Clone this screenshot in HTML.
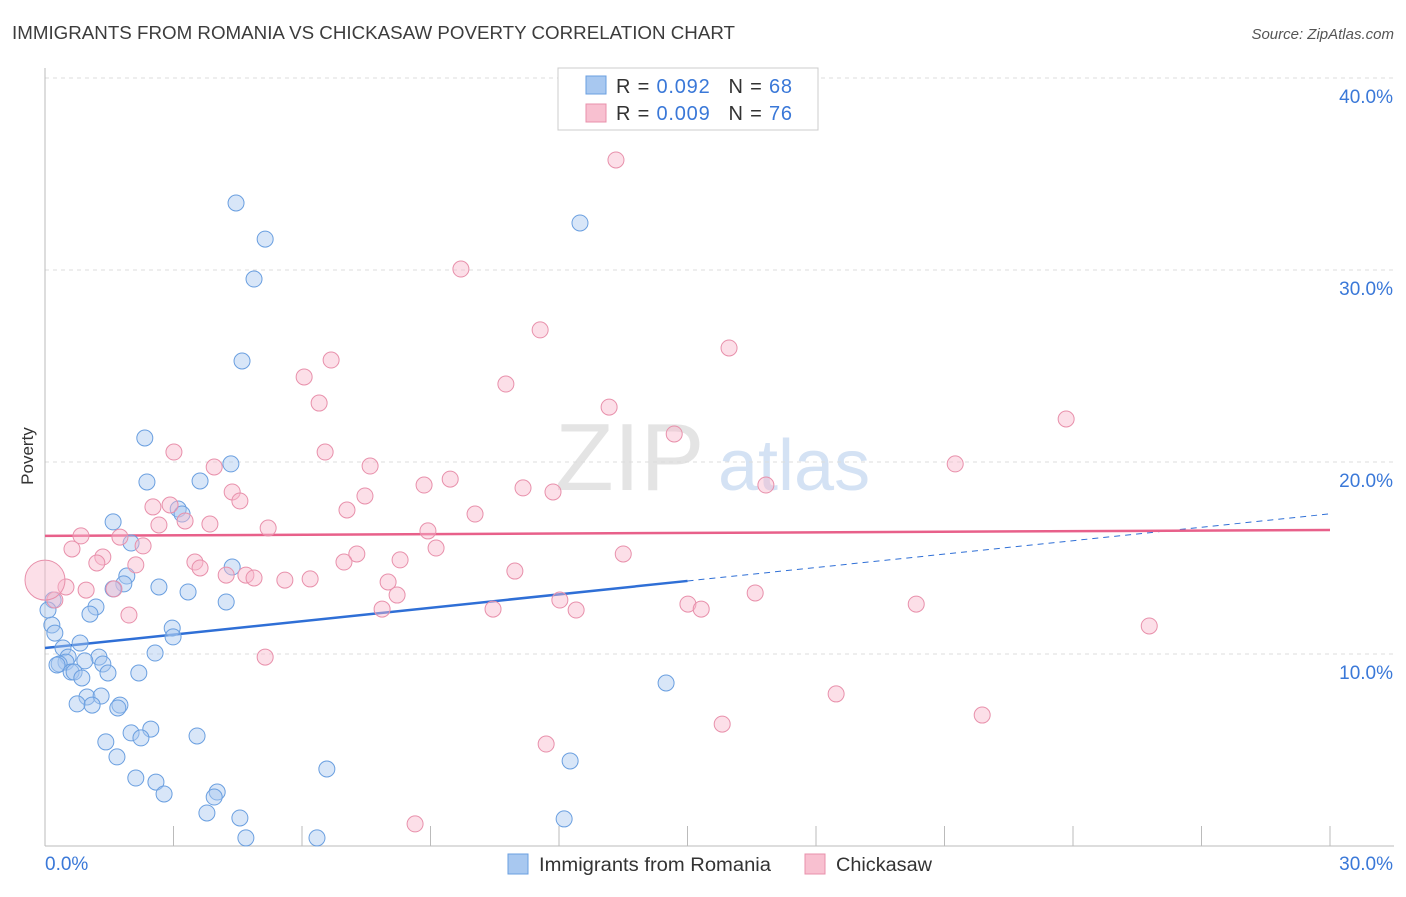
<!DOCTYPE html>
<html><head><meta charset="utf-8"><style>
body{margin:0;background:#fff;font-family:"Liberation Sans",sans-serif}
svg text{font-family:"Liberation Sans",sans-serif}
</style></head><body>
<svg id="chart" width="1406" height="892" xmlns="http://www.w3.org/2000/svg">
<text x="12" y="39" font-size="18" fill="#3c3c3c" textLength="723" lengthAdjust="spacingAndGlyphs">IMMIGRANTS FROM ROMANIA VS CHICKASAW POVERTY CORRELATION CHART</text>
<text x="1394" y="39" font-size="15" fill="#555" text-anchor="end" font-style="italic">Source: ZipAtlas.com</text>
<text x="555" y="490" font-size="96" fill="#e4e4e4" font-family="Liberation Serif">ZIP</text>
<text x="718" y="490" font-size="72" fill="#d4e2f4">atlas</text>
<text x="33" y="456" font-size="17" fill="#333" text-anchor="middle" transform="rotate(-90 33 456)">Poverty</text>
<g id="grid"></g><g id="axes"></g><g id="trend"></g><g id="pts"></g>
<g>
<rect x="558" y="68" width="260" height="62" fill="#fff" stroke="#ccc"/>
<rect x="586" y="76" width="20" height="18" fill="#a8c8f0" stroke="#6a9fe0"/>
<rect x="586" y="104" width="20" height="18" fill="#f8c0d0" stroke="#e890ab"/>
<text x="616" y="93" font-size="20" fill="#333" textLength="176" lengthAdjust="spacing">R = <tspan fill="#3a78d8">0.092</tspan><tspan dx="18">N = </tspan><tspan fill="#3a78d8">68</tspan></text>
<text x="616" y="120" font-size="20" fill="#333" textLength="176" lengthAdjust="spacing">R = <tspan fill="#3a78d8">0.009</tspan><tspan dx="18">N = </tspan><tspan fill="#3a78d8">76</tspan></text>
</g>
<g>
<rect x="508" y="854" width="20" height="20" fill="#a8c8f0" stroke="#6a9fe0"/>
<text x="539" y="871" font-size="19" fill="#333" textLength="232" lengthAdjust="spacingAndGlyphs">Immigrants from Romania</text>
<rect x="805" y="854" width="20" height="20" fill="#f8c0d0" stroke="#e890ab"/>
<text x="836" y="871" font-size="19" fill="#333" textLength="96" lengthAdjust="spacingAndGlyphs">Chickasaw</text>
</g>
</svg>
<script>
const blueX=[4.46,5.14,4.88,12.49,4.60,2.33,4.34,2.38,3.62,3.11,3.20,1.59,2.01,4.37,1.91,1.84,1.59,2.66,3.34,4.23,1.19,1.05,0.19,0.16,0.23,0.82,2.97,2.99,2.57,0.42,0.54,0.49,0.33,1.26,0.93,1.35,0.28,0.61,0.68,0.86,1.47,2.19,0.98,1.31,0.75,1.10,1.75,1.70,2.47,3.55,2.01,2.24,1.42,1.68,6.58,12.26,14.50,2.12,2.59,2.78,4.02,3.95,3.78,4.55,12.12,4.69,6.35,0.07];
const blueY=[33.49,31.61,29.53,32.45,25.26,21.25,19.90,18.96,19.01,17.55,17.29,16.88,15.78,14.53,14.06,13.65,13.39,13.49,13.23,12.71,12.45,12.08,12.81,11.51,11.09,10.57,11.35,10.89,10.05,10.31,9.84,9.58,9.48,9.84,9.64,9.48,9.43,9.06,9.06,8.75,9.01,9.01,7.76,7.81,7.40,7.34,7.34,7.19,6.09,5.73,5.89,5.63,5.42,4.64,4.01,4.43,8.49,3.54,3.33,2.71,2.81,2.55,1.72,1.46,1.41,0.42,0.42,12.29];
const pinkX=[13.33,9.71,11.56,6.68,15.97,6.05,10.76,6.40,13.17,23.84,14.69,3.01,6.54,3.95,7.59,21.25,9.46,8.85,11.16,11.86,16.83,4.37,4.55,7.47,2.92,2.52,10.04,7.05,3.27,3.85,2.66,5.21,8.94,0.84,1.75,2.29,0.63,9.13,7.28,13.50,1.35,1.21,2.12,3.50,6.98,8.29,3.62,10.97,4.23,4.69,4.88,5.60,6.19,8.01,0.49,0.96,1.61,8.22,16.58,7.87,10.46,12.02,12.40,15.01,15.32,20.34,25.78,0.23,1.96,5.14,18.47,15.81,21.88,11.70,8.64,0];
const pinkY=[35.73,30.05,26.88,25.31,25.94,24.43,24.06,23.07,22.86,22.24,21.46,20.52,20.52,19.74,19.79,19.90,19.11,18.80,18.65,18.44,18.80,18.44,17.97,18.23,17.76,17.66,17.29,17.50,16.93,16.77,16.72,16.56,16.41,16.15,16.09,15.63,15.47,15.52,15.21,15.21,15.05,14.74,14.64,14.79,14.79,14.90,14.48,14.32,14.11,14.11,13.96,13.85,13.91,13.75,13.49,13.33,13.39,13.07,13.18,12.34,12.34,12.81,12.29,12.60,12.34,12.60,11.46,12.81,12.03,9.84,7.92,6.35,6.82,5.31,1.15,13.85];
const yTicks=[10,20,30,40];
const yTickLabels=["10.0%","20.0%","30.0%","40.0%"];
const xTicks=[0,3,6,9,12,15,18,21,24,27,30];
const blueTrend=[10.31,17.3];
const blueSolidEnd=15;
const pinkTrend=[16.15,16.46];
const NS="http://www.w3.org/2000/svg";
const sx=v=>45+v*(1285/30), sy=v=>846-v*19.2;
function mk(tag,attrs,parent){const e=document.createElementNS(NS,tag);for(const k in attrs)e.setAttribute(k,attrs[k]);document.getElementById(parent).appendChild(e);return e;}
yTicks.forEach((t,i)=>{
 const l=mk('line',{x1:45,x2:1394,y1:sy(t),y2:sy(t),stroke:'#ddd','stroke-dasharray':'4,4'},'grid');
 
 
 const tx=mk('text',{x:1393,y:sy(t)+25,'font-size':19,fill:'#3a78d8','text-anchor':'end'},'grid');tx.textContent=yTickLabels[i];
 
 
});
mk('line',{x1:45,x2:1394,y1:78,y2:78,stroke:'#ddd','stroke-dasharray':'4,4'},'grid');
mk('line',{x1:45,x2:45,y1:68,y2:846,stroke:'#bbb'},'axes');
const xa=mk('line',{x1:45,x2:1394,y1:846,y2:846,stroke:'#bbb'},'axes');


xTicks.forEach(t=>{const l=mk('line',{x1:sx(t),x2:sx(t),y1:826,y2:846,stroke:'#bbb'},'axes');
 
 });
const x0=mk('text',{x:45,y:870,'font-size':19,fill:'#3a78d8'},'axes');x0.textContent='0.0%';


const x1=mk('text',{x:1393,y:870,'font-size':19,fill:'#3a78d8','text-anchor':'end'},'axes');x1.textContent='30.0%';


function pts(X,Y,fill,stroke,name){X.forEach((x,i)=>{const r=(name==='chickasaw-point'&&x===0)?20:8;
 const c=mk('circle',{cx:sx(x),cy:sy(Y[i]),r:r,fill:fill,'fill-opacity':0.45,stroke:stroke,'stroke-width':1},'pts');
 
 });}
pts(blueX,blueY,'#a8c8f0','#6a9fe0','romania-point');
pts(pinkX,pinkY,'#f8b8cc','#e890ab','chickasaw-point');
const bAt=x=>blueTrend[0]+(blueTrend[1]-blueTrend[0])*x/30;
const bl=mk('line',{x1:sx(0),y1:sy(bAt(0)),x2:sx(blueSolidEnd),y2:sy(bAt(blueSolidEnd)),stroke:'#2f6fd6','stroke-width':2.5},'trend');


const bd=mk('line',{x1:sx(blueSolidEnd),y1:sy(bAt(blueSolidEnd)),x2:sx(30),y2:sy(bAt(30)),stroke:'#2f6fd6','stroke-width':1,'stroke-dasharray':'6,5'},'trend');


const pl=mk('line',{x1:sx(0),y1:sy(pinkTrend[0]),x2:sx(30),y2:sy(pinkTrend[1]),stroke:'#e8608a','stroke-width':2.5},'trend');


</script>
</body></html>
